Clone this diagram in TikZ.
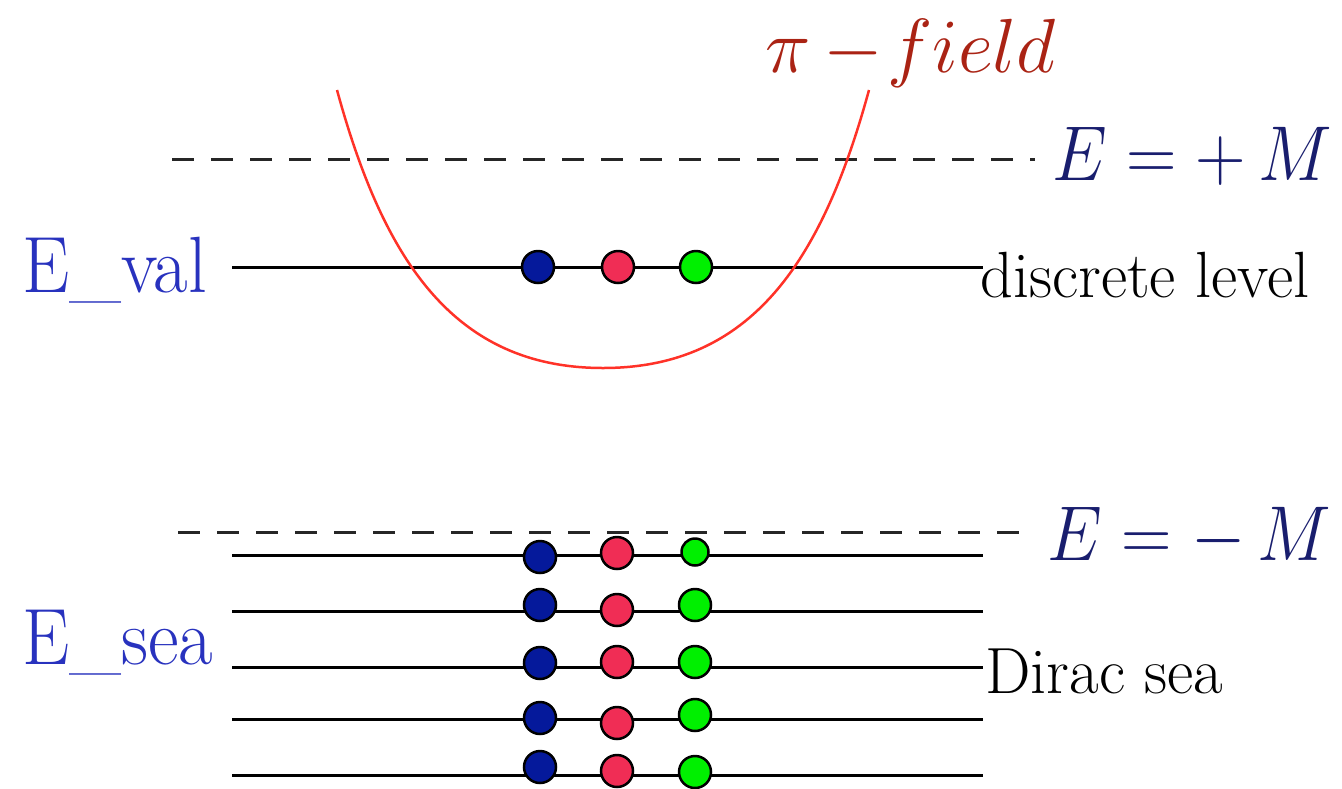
\documentclass[tikz,border=0pt]{standalone}
\usepackage{fix-cm}
\definecolor{navyM}{RGB}{25,30,110}
\definecolor{labblue}{RGB}{40,50,190}
\definecolor{pibrown}{RGB}{170,35,20}
\definecolor{curvered}{RGB}{255,50,40}
\definecolor{qblue}{RGB}{5,25,155}
\definecolor{qred}{RGB}{240,45,85}
\definecolor{qgreen}{RGB}{0,240,0}
\newcommand{\bigmath}[3]{\scalebox{#1}[#2]{\fontsize{20.74}{25}\selectfont$#3$}}
\newcommand{\bigtext}[3]{\scalebox{#1}[#2]{\fontsize{20.74}{25}\selectfont #3}}
\begin{document}
\begin{tikzpicture}[x=1pt,y=-1pt,
  level/.style={line width=3pt,black},
  dashlevel/.style={line width=3pt,black!85,dash pattern=on 22pt off 17pt},
  quark/.style={circle,draw=black,line width=2.5pt,minimum size=32pt,inner sep=0pt},
  bq/.style={quark,fill=qblue},
  rq/.style={quark,fill=qred},
  gq/.style={quark,fill=qgreen},
  mlab/.style={anchor=base west,inner sep=0pt,text=navyM},
  elab/.style={anchor=base west,inner sep=0pt,text=labblue},
  tlab/.style={anchor=base west,inner sep=0pt,text=black}]
\useasboundingbox (0,0) rectangle (1342,788);
% dashed levels
\coordinate (dpL) at (172,159); \coordinate (dpR) at (1035,159);
\coordinate (dmL) at (178,532); \coordinate (dmR) at (1035,532);
\draw[dashlevel] (dpL) -- (dpR);
\draw[dashlevel] (dmL) -- (dmR);
\node[mlab] (Mp) at (1052,180) {\bigmath{3.37}{3.75}{E=+\,M}};
\node[mlab] (Mm) at (1047,560) {\bigmath{3.37}{3.75}{E=-\,M}};
% discrete level
\coordinate (vL) at (232,267); \coordinate (vR) at (983,267);
\draw[level] (vL) -- (vR);
\node[bq] (v1) at (538,267) {};
\node[rq] (v2) at (618,267) {};
\node[gq] (v3) at (696,267) {};
\node[elab] (Eval) at (22,292) {\bigtext{3.62}{3.85}{E\_val}};
\node[tlab] (disc) at (980,297) {\bigtext{3.1}{3.15}{discrete level}};
% Dirac sea
\foreach \i/\y/\yb/\yr/\yg/\gs in {1/555/557/553/552/27pt,2/611/605/610/605/32pt,3/667/663/662/662/32pt,4/719/718/723/715/32pt,5/775/767/771/772/32pt}{
  \coordinate (sL\i) at (232,\y); \coordinate (sR\i) at (983,\y);
  \draw[level] (sL\i) -- (sR\i);
  \node[bq] (b\i) at (540,\yb) {};
  \node[rq] (r\i) at (617,\yr) {};
  \node[gq,minimum size=\gs] (g\i) at (695,\yg) {};
}
\node[elab] (Esea) at (22,664) {\bigtext{3.62}{3.85}{E\_sea}};
\node[tlab] (dirac) at (985,693) {\bigtext{3.1}{3.15}{Dirac sea}};
% pi field curve
\coordinate (cL) at (337,90); \coordinate (cB) at (603,368); \coordinate (cR) at (869,90);
\draw[curvered,line width=2.5pt] (cL) .. controls (384,262) and (455,368) .. (cB)
  .. controls (751,368) and (822,262) .. (cR);
\node[anchor=base west,inner sep=0pt,text=pibrown] (pif) at (765,72) {\bigmath{3.7}{3.7}{\pi\mkern3mu{-}\mkern1mu field}};
\end{tikzpicture}
\end{document}
